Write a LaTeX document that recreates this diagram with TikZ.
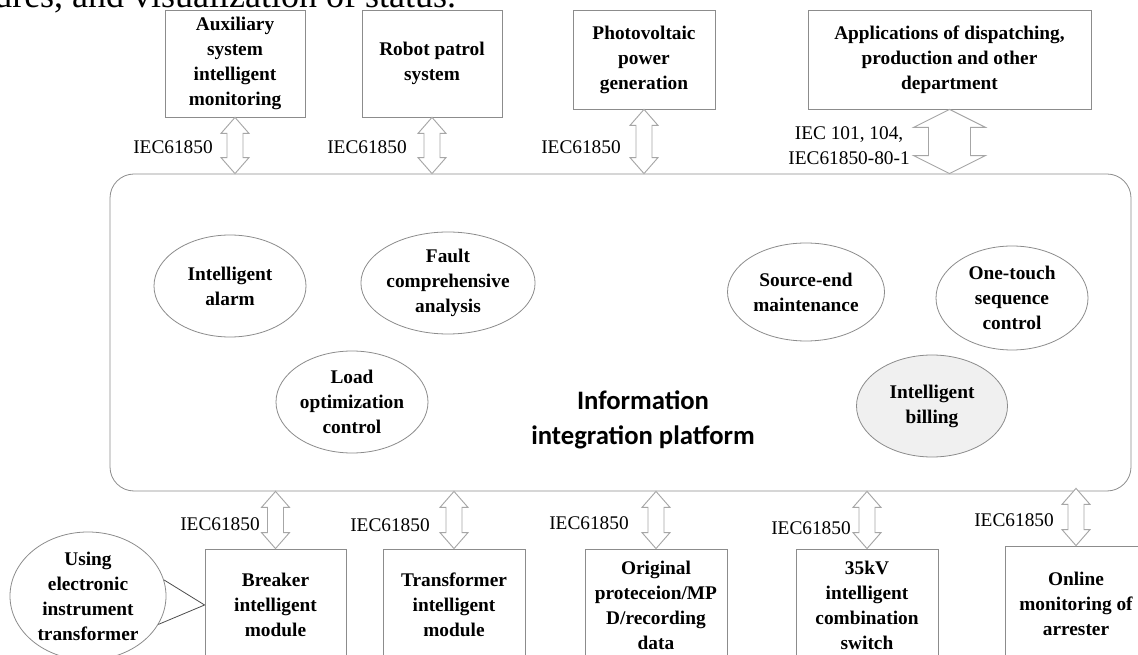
\documentclass[tikz,border=0pt]{standalone}
\usepackage{fontspec}
\setmainfont{Liberation Serif}
\newfontfamily\titlefont{Carlito}
\usetikzlibrary{shapes.geometric,calc}

% one drawing unit = 0.75pt
\newcommand{\px}{0.75pt}
\newcommand{\boxfont}{\fontsize{14.5pt}{18.75pt}\selectfont\bfseries}
\newcommand{\labfont}{\fontsize{14.5pt}{18.75pt}\selectfont}

% vertical two-headed block arrow: top point, bottom point, half head width, half shaft width, head length
\newcommand{\fatlink}[5]{%
  \draw[flow] let \p1=#1, \p2=#2 in
    (\x1,\y1) -- (\x1+#3*\px,\y1-#5*\px) -- (\x1+#4*\px,\y1-#5*\px)
    -- (\x1+#4*\px,\y2+#5*\px) -- (\x1+#3*\px,\y2+#5*\px) -- (\x1,\y2)
    -- (\x1-#3*\px,\y2+#5*\px) -- (\x1-#4*\px,\y2+#5*\px)
    -- (\x1-#4*\px,\y1-#5*\px) -- (\x1-#3*\px,\y1-#5*\px) -- cycle;}

\begin{document}
\begin{tikzpicture}[x=0.75pt,y=-0.75pt,
  unit/.style={draw=black!45, line width=0.6pt, fill=white, inner sep=0pt,
    align=center, font=\boxfont},
  oval/.style={ellipse, draw=black!45, line width=0.6pt, fill=white, inner sep=0pt,
    align=center, font=\boxfont},
  flow/.style={draw=black!35, line width=0.7pt, fill=white, line join=miter},
  proto/.style={font=\labfont, inner sep=0pt, anchor=east, align=center},
  platform/.style={draw=black!45, line width=0.6pt, rounded corners=18pt, fill=white, inner sep=0pt},
  tie/.style={draw=black!70, line width=0.6pt}]
\useasboundingbox (0,0) rectangle (1138,655);
\begin{scope}
\clip (0,0) rectangle (1138,655);

% running text cut at the top edge
\node[anchor=base west, inner sep=0pt, font=\fontsize{27pt}{32pt}\selectfont] (runin) at (-6,8) {ures, and visualization of status.};

% upper systems
\node[unit, minimum width=140*\px, minimum height=107*\px] (aux) at (235,63.5) {Auxiliary\\system\\intelligent\\monitoring};
\node[unit, minimum width=140*\px, minimum height=107*\px] (robot) at (432,63.5) {Robot patrol\\system};
\node[unit, minimum width=142*\px, minimum height=99*\px] (pv) at (644,59.5) {Photovoltaic\\power\\generation};
\node[unit, minimum width=283*\px, minimum height=99*\px] (apps) at (949.5,59.5) {Applications of dispatching,\\production and other\\department};

% platform
\node[platform, minimum width=1021*\px, minimum height=317*\px] (plat) at (620.5,332.5) {};
\node[font=\titlefont\fontsize{20pt}{26pt}\selectfont\bfseries, align=center] (title) at (643,420) {Information\\integration platform};

% functions on the platform
\node[oval, minimum width=152*\px, minimum height=102*\px] (alarm) at (230,286) {Intelligent\\alarm};
\node[oval, minimum width=174*\px, minimum height=102*\px] (fault) at (448,283) {Fault\\comprehensive\\analysis};
\node[oval, minimum width=152*\px, minimum height=102*\px] (load) at (352,402) {Load\\optimization\\control};
\node[oval, minimum width=157*\px, minimum height=98*\px] (source) at (806,292) {Source-end\\maintenance};
\node[oval, minimum width=152*\px, minimum height=104*\px] (seq) at (1012,298) {One-touch\\sequence\\control};
\node[oval, minimum width=151*\px, minimum height=102*\px, fill=black!6] (billing) at (932,406) {Intelligent\\billing};

% lower modules
\node[unit, minimum width=141*\px, minimum height=112*\px] (breaker) at (275.5,605) {Breaker\\intelligent\\module};
\node[unit, minimum width=142*\px, minimum height=112*\px] (trafo) at (454,605) {Transformer\\intelligent\\module};
\node[unit, minimum width=142*\px, minimum height=112*\px] (orig) at (656,605) {Original\\proteceion/MP\\D/recording\\data};
\node[unit, minimum width=142*\px, minimum height=112*\px] (kv) at (867,605) {35kV\\intelligent\\combination\\switch};
\node[unit, minimum width=142*\px, minimum height=115*\px] (arr) at (1076,603.5) {Online\\monitoring of\\arrester};

\node[oval, minimum width=156*\px, minimum height=128*\px] (evt) at (88,596) {Using\\electronic\\instrument\\transformer};
\draw[tie] (evt.12) -- (breaker.west) -- (evt.-22);

% links to the platform
\fatlink{(aux.south)}{(aux.south |- plat.north)}{14}{8}{16}
\fatlink{(robot.south)}{(robot.south |- plat.north)}{14}{8}{16}
\fatlink{(pv.south)}{(pv.south |- plat.north)}{14}{8}{16}
\fatlink{(apps.south)}{(apps.south |- plat.north)}{36}{21}{18}
\fatlink{(breaker.north |- plat.south)}{(breaker.north)}{14}{8}{16}
\fatlink{(trafo.north |- plat.south)}{(trafo.north)}{14}{8}{16}
\fatlink{(orig.north |- plat.south)}{(orig.north)}{14}{8}{16}
\fatlink{(kv.north |- plat.south)}{(kv.north)}{14}{8}{16}
\fatlink{($(arr.north |- plat.south)+(0,-3)$)}{(arr.north)}{14}{8}{16}

% protocol labels
\node[proto] (p1) at (213,147) {IEC61850};
\node[proto] (p2) at (407,147) {IEC61850};
\node[proto] (p3) at (621,147) {IEC61850};
\node[proto] (p4) at (910,146) {IEC 101, 104,\\IEC61850-80-1};
\node[proto] (p5) at (260,524) {IEC61850};
\node[proto] (p6) at (430,525) {IEC61850};
\node[proto] (p7) at (629,523) {IEC61850};
\node[proto] (p8) at (851,528) {IEC61850};
\node[proto] (p9) at (1054,520) {IEC61850};
\end{scope}
\end{tikzpicture}
\end{document}
